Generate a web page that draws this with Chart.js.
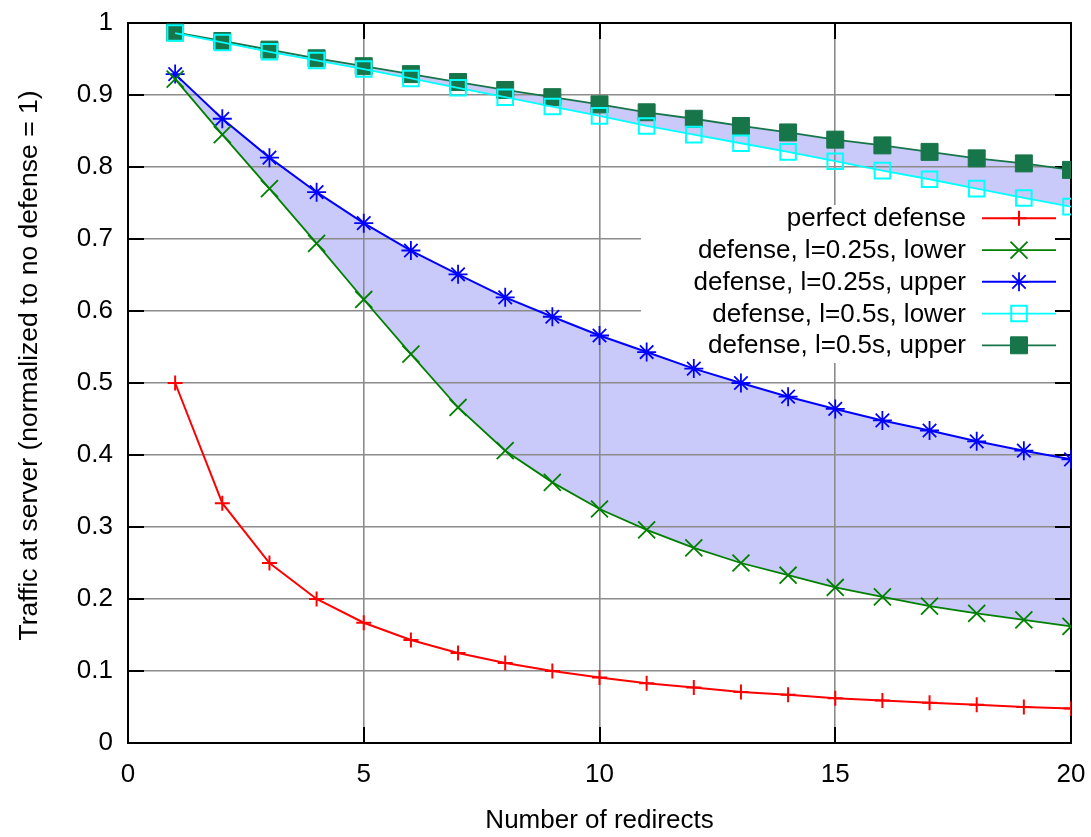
<!DOCTYPE html>
<html>
<head>
<meta charset="utf-8">
<script src="https://cdn.jsdelivr.net/npm/chart.js@4/dist/chart.umd.min.js"></script>
<style>
  html, body { margin: 0; padding: 0; background: #fff; }
  #wrap { width: 1091px; height: 837px; }
</style>
</head>
<body>
<div id="wrap"><canvas id="c" width="1091" height="837"></canvas></div>
<script>
// Number of redirects (x)
const redirects = [1, 2, 3, 4, 5, 6, 7, 8, 9, 10, 11, 12, 13, 14, 15, 16, 17, 18, 19, 20];

// Traffic at server, normalized to no defense = 1
const perfectDefense = [0.5, 0.333, 0.25, 0.2, 0.167, 0.143, 0.125, 0.111, 0.1, 0.091,
                        0.083, 0.077, 0.071, 0.067, 0.062, 0.059, 0.056, 0.053, 0.05, 0.048];
const lower025 = [0.922, 0.845, 0.770, 0.694, 0.616, 0.540, 0.466, 0.406, 0.362, 0.325,
                  0.296, 0.271, 0.250, 0.233, 0.216, 0.203, 0.190, 0.180, 0.171, 0.162];
const upper025 = [0.929, 0.867, 0.813, 0.765, 0.722, 0.684, 0.651, 0.619, 0.592, 0.566,
                  0.543, 0.520, 0.500, 0.481, 0.464, 0.448, 0.434, 0.419, 0.406, 0.394];
const lower05  = [0.986, 0.973, 0.960, 0.948, 0.936, 0.923, 0.910, 0.897, 0.884, 0.871,
                  0.857, 0.845, 0.833, 0.821, 0.808, 0.795, 0.783, 0.770, 0.757, 0.745];
const upper05  = [0.987, 0.975, 0.963, 0.951, 0.940, 0.929, 0.918, 0.907, 0.897, 0.887,
                  0.876, 0.867, 0.857, 0.848, 0.838, 0.830, 0.821, 0.812, 0.805, 0.796];

const seriesNames = [
  'perfect defense',
  'defense, l=0.25s, lower',
  'defense, l=0.25s, upper',
  'defense, l=0.5s, lower',
  'defense, l=0.5s, upper'
];

// Ticks and their labels
const xTickValues = [0, 5, 10, 15, 20];
const xTickLabels = ['0', '5', '10', '15', '20'];
const yTickValues = [0, 0.1, 0.2, 0.3, 0.4, 0.5, 0.6, 0.7, 0.8, 0.9, 1];
const yTickLabels = ['0', '0.1', '0.2', '0.3', '0.4', '0.5', '0.6', '0.7', '0.8', '0.9', '1'];

const xTitle = 'Number of redirects';
const yTitle = 'Traffic at server (normalized to no defense = 1)';

const FONT = '"Liberation Sans", Arial, Helvetica, sans-serif';
const BAND = 'rgb(201,201,250)';

const pts = arr => redirects.map((x, i) => ({ x: x, y: arr[i] }));

// Key placement (upper right, inside the plot)
const KEY = { left: 641, top: 205, bottom: 363, textRight: 966, lineFrom: 982, lineTo: 1056, mark: 1019, firstRow: 218.3, step: 31.75 };
// Vertical axis title placement
const YTITLE = { x: 30, y: 365.5, size: 26.5 };

const framePlugin = {
  id: 'frameAndKey',
  beforeDatasetsDraw(chart) {
    const { ctx, chartArea: a, scales } = chart;
    const xs = scales.x, ys = scales.y;

    // Opaque key backdrop: hides the grid behind the key but keeps the band below the upper l=0.25s curve
    const up = chart.getDatasetMeta(2).data;
    ctx.save();
    ctx.beginPath();
    ctx.moveTo(a.left, a.top);
    ctx.lineTo(a.right, a.top);
    for (let i = up.length - 1; i >= 0; i--) ctx.lineTo(up[i].x, up[i].y);
    ctx.lineTo(a.left, up[0].y);
    ctx.closePath();
    ctx.clip();
    ctx.fillStyle = '#fff';
    ctx.fillRect(KEY.left, KEY.top, a.right - KEY.left, KEY.bottom - KEY.top);
    ctx.restore();

    // Plot frame with inward tick marks on all four sides
    ctx.save();
    ctx.strokeStyle = '#000';
    ctx.lineWidth = 2;
    ctx.lineCap = 'butt';
    ctx.beginPath();
    const T = 16;
    yTickValues.forEach(v => {
      const py = Math.round(ys.getPixelForValue(v));
      ctx.moveTo(a.left, py); ctx.lineTo(a.left + T, py);
      ctx.moveTo(a.right, py); ctx.lineTo(a.right - T, py);
    });
    xTickValues.forEach(v => {
      const px = Math.round(xs.getPixelForValue(v));
      ctx.moveTo(px, a.bottom); ctx.lineTo(px, a.bottom - T);
      ctx.moveTo(px, a.top); ctx.lineTo(px, a.top + T);
    });
    ctx.stroke();
    ctx.strokeRect(a.left, a.top, a.right - a.left, a.bottom - a.top);
    ctx.restore();

    // Vertical axis title
    ctx.save();
    ctx.translate(YTITLE.x, YTITLE.y);
    ctx.rotate(-Math.PI / 2);
    ctx.fillStyle = '#000';
    ctx.font = YTITLE.size + 'px ' + FONT;
    ctx.textAlign = 'center';
    ctx.textBaseline = 'middle';
    ctx.fillText(yTitle, 0, 0);
    ctx.restore();
  },
  afterDatasetsDraw(chart) {
    const { ctx } = chart;
    ctx.save();
    chart.data.datasets.forEach((ds, i) => {
      const cy = KEY.firstRow + i * KEY.step;
      ctx.fillStyle = '#000';
      ctx.font = '26px ' + FONT;
      ctx.textAlign = 'right';
      ctx.textBaseline = 'middle';
      ctx.fillText(ds.label, KEY.textRight, cy + 1);

      ctx.strokeStyle = ds.borderColor;
      ctx.lineWidth = ds.borderWidth;
      ctx.beginPath();
      ctx.moveTo(KEY.lineFrom, cy);
      ctx.lineTo(KEY.lineTo, cy);
      ctx.stroke();

      ctx.fillStyle = ds.pointBackgroundColor;
      ctx.strokeStyle = ds.pointBorderColor;
      ctx.lineWidth = ds.pointBorderWidth;
      Chart.helpers.drawPoint(ctx, {
        pointStyle: ds.pointStyle, radius: ds.pointRadius, rotation: 0, borderWidth: ds.pointBorderWidth
      }, KEY.mark, cy);
    });
    ctx.restore();
  }
};

function series(label, data, color, style, radius, opts) {
  return Object.assign({
    label: label,
    data: pts(data),
    borderColor: color,
    borderWidth: 1.8,
    pointStyle: style,
    pointRadius: radius,
    pointHoverRadius: radius,
    pointBorderColor: color,
    pointBackgroundColor: color,
    pointBorderWidth: 1.8,
    tension: 0,
    fill: false
  }, opts || {});
}

new Chart(document.getElementById('c'), {
  type: 'line',
  data: {
    datasets: [
      series(seriesNames[0], perfectDefense, '#ff0000', 'cross', 7.5, { borderWidth: 2, pointBorderWidth: 2 }),
      series(seriesNames[1], lower025, '#008000', 'crossRot', 12),
      series(seriesNames[2], upper025, '#0000ff', 'star', 9.5, { borderWidth: 2, fill: '-1', backgroundColor: BAND }),
      series(seriesNames[3], lower05, '#00ffff', 'rect', 11, { pointBackgroundColor: 'rgba(0,0,0,0)', pointBorderWidth: 2 }),
      series(seriesNames[4], upper05, '#17754a', 'rect', 12, { fill: '-1', backgroundColor: BAND, pointBorderWidth: 1 })
    ]
  },
  options: {
    responsive: false,
    animation: false,
    events: [],
    layout: { padding: { left: 0, top: 23, right: 20, bottom: 0 } },
    plugins: {
      legend: { display: false },
      tooltip: { enabled: false },
      filler: { drawTime: 'beforeDraw', propagate: false }
    },
    scales: {
      x: {
        type: 'linear',
        min: 0, max: 20,
        afterFit: s => { s.height = 94; s.paddingLeft = 0; s.paddingRight = 0; },
        afterBuildTicks: s => { s.ticks = xTickValues.map(v => ({ value: v })); },
        grid: { color: '#8c8c8c', lineWidth: 1.6, drawTicks: false },
        border: { display: false },
        ticks: { color: '#000', font: { family: FONT, size: 26 }, padding: 16, maxRotation: 0,
                 callback: (v, i) => xTickLabels[i] },
        title: { display: true, text: xTitle, color: '#000', font: { family: FONT, size: 26 }, padding: { top: 0, bottom: 1 } }
      },
      y: {
        type: 'linear',
        min: 0, max: 1,
        afterFit: s => { s.width = 128; s.paddingTop = 0; s.paddingBottom = 0; },
        afterBuildTicks: s => { s.ticks = yTickValues.map(v => ({ value: v })); },
        grid: { color: '#8c8c8c', lineWidth: 1.6, drawTicks: false },
        border: { display: false },
        ticks: { color: '#000', font: { family: FONT, size: 26 }, padding: 15, autoSkip: false,
                 callback: (v, i) => yTickLabels[i] },
        title: { display: false }
      }
    }
  },
  plugins: [framePlugin]
});
</script>
</body>
</html>
